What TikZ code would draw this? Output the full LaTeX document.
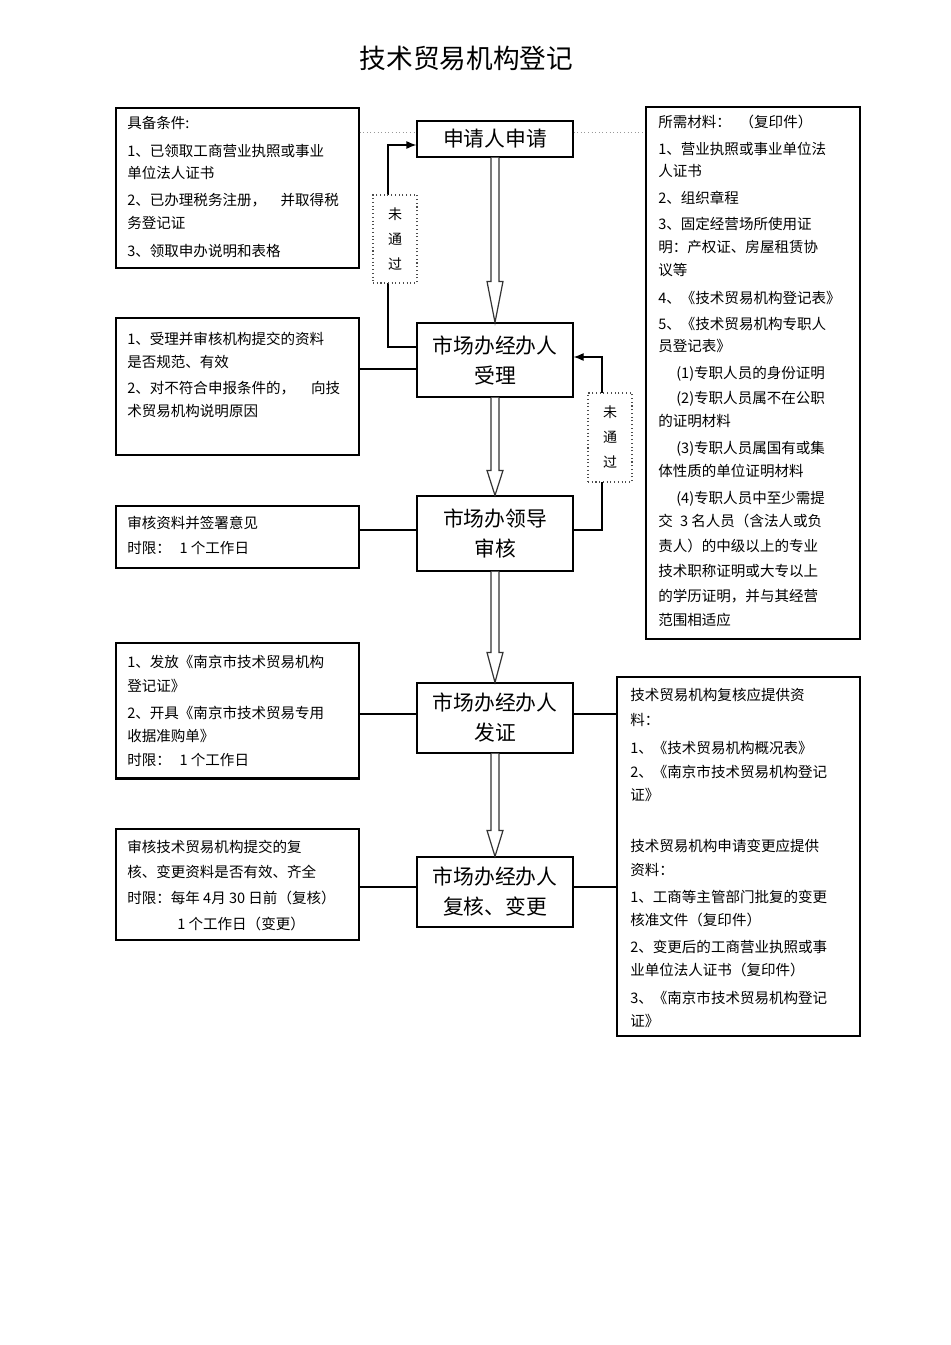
\documentclass[tikz,border=0pt]{standalone}
\usepackage{fontspec}
\setmainfont{Noto Sans CJK SC}
\usetikzlibrary{calc,arrows.meta}
\tikzset{
  box/.style={draw, line width=0.85pt, inner sep=0pt},
  mainbox/.style={draw, line width=0.9pt, inner sep=0pt, align=center,
    minimum width=117pt, font=\fontsize{15.6pt}{22.5pt}\selectfont},
  nbox/.style={draw=black!70, dotted, line width=0.8pt, fill=white, inner sep=0pt, align=center,
    minimum width=33pt, font=\fontsize{10.5pt}{18.75pt}\selectfont},
  txt/.style={font=\fontsize{10.9pt}{12pt}\selectfont, anchor=west, inner sep=0pt,
    text height=9.6pt, text depth=1.3pt},
  conn/.style={line width=0.8pt},
  thickconn/.style={line width=1.5pt},
  fb/.style={line width=0.9pt, -{Latex[length=7.5pt,width=6pt]}},
  harrow/.style={line width=0.9pt, draw=black!80, fill=white},
  dotline/.style={dotted, line width=0.7pt, draw=black!40}
}
\newcommand\boxtext[2]{\foreach \xx/\yy/\s [count=\k] in {#2} \node[txt] (#1-\k) at (\xx,\yy) {\s};}
\newcommand\hollowarrow[3]{%
  \draw[harrow] ($(#1.south)+(-4,0)$) -- ($(#2.north)+(-4,-#3)$) -- ($(#2.north)+(-8,-#3)$)
    -- (#2.north) -- ($(#2.north)+(8,-#3)$) -- ($(#2.north)+(4,-#3)$) -- ($(#1.south)+(4,0)$);}
\begin{document}
\begin{tikzpicture}[x=0.75pt,y=-0.75pt]
\fill[white] (0,0) rectangle (950,1345);
\useasboundingbox (0,0) rectangle (950,1345);

% title
\node[inner sep=0pt, font=\fontsize{20pt}{24pt}\selectfont] (title) at (466.5,58) {技术贸易机构登记};

% main process boxes
\node[mainbox, minimum height=27pt] (apply) at (495,139) {申请人申请};
\node[mainbox, minimum height=55.5pt] (shouli) at (495,360) {市场办经办人\\受理};
\node[mainbox, minimum height=56.25pt] (shenhe) at (495,533.5) {市场办领导\\审核};
\node[mainbox, minimum height=52.5pt] (fazheng) at (495,718) {市场办经办人\\发证};
\node[mainbox, minimum height=52.5pt] (fuhe) at (495,892) {市场办经办人\\复核、变更};

% side boxes
\node[box, minimum width=182.25pt, minimum height=120pt] (L1) at (237.5,188) {};
\node[box, minimum width=182.25pt, minimum height=102.75pt] (L2) at (237.5,386.5) {};
\node[box, minimum width=182.25pt, minimum height=46.5pt] (L3) at (237.5,537) {};
\node[box, minimum width=182.25pt, minimum height=101.25pt] (L4) at (237.5,710.5) {};
\node[box, minimum width=182.25pt, minimum height=83.25pt] (L5) at (237.5,884.5) {};
\node[box, minimum width=160.5pt, minimum height=399pt] (R1) at (753,373) {};
\node[box, minimum width=182.25pt, minimum height=269.25pt] (R2) at (738.5,856.5) {};
\draw[line width=1.5pt] (L4.south west) -- (L4.south east);
\draw[line width=1.2pt] (L1.south west) -- (L1.south east);

% dotted links at top
\draw[dotline] (L1.east |- 0,132.5) -- (apply.west |- 0,132.5);
\draw[dotline] (apply.east |- 0,132.5) -- (R1.west |- 0,132.5);

% connectors to side boxes
\draw[thickconn] (L2.east |- 0,369) -- (shouli.west |- 0,369);
\draw[thickconn] (L3.east |- 0,530) -- (shenhe.west |- 0,530);
\draw[conn] (L4.east |- 0,714) -- (fazheng.west |- 0,714);
\draw[conn] (fazheng.east |- 0,714) -- (R2.west |- 0,714);
\draw[conn] (L5.east |- 0,887) -- (fuhe.west |- 0,887);
\draw[conn] (fuhe.east |- 0,887) -- (R2.west |- 0,887);

% feedback loops (not passed)
\coordinate (fb1) at (388,0);
\coordinate (fb2) at (602,0);
\draw[fb] (shouli.west |- 0,347) -- (fb1 |- 0,347) -- (fb1 |- 0,145) -- (apply.west |- 0,145);
\draw[fb] (shenhe.east |- 0,530) -- (fb2 |- 0,530) -- (fb2 |- 0,357) -- (shouli.east |- 0,357);
\node[nbox, minimum height=66pt] (n1) at (395,239) {未\\通\\过};
\node[nbox, minimum height=66.75pt] (n2) at (610,437.5) {未\\通\\过};

% hollow block arrows
\hollowarrow{apply}{shouli}{41}
\hollowarrow{shouli}{shenhe}{25}
\hollowarrow{shenhe}{fazheng}{30}
\hollowarrow{fazheng}{fuhe}{26}

% texts
\boxtext{l1}{127/123/{具备条件:}, 127/151/{1、已领取工商营业执照或事业}, 127/173/{单位法人证书},
  127/200/{2、已办理税务注册，\hspace{1em}并取得税}, 127/223/{务登记证}, 127/251/{3、领取申办说明和表格}}
\boxtext{l2}{127/339/{1、受理并审核机构提交的资料}, 127/362/{是否规范、有效},
  127/388/{2、对不符合申报条件的，\hspace{1.1em}向技}, 127/411/{术贸易机构说明原因}}
\boxtext{l3}{127/523/{审核资料并签署意见}, 127/548/{时限：\hspace{0.6em}1 个工作日}}
\boxtext{l4}{127/662/{1、发放《南京市技术贸易机构}, 127/686/{登记证》},
  127/713/{2、开具《南京市技术贸易专用}, 127/736/{收据准购单》}, 127/760/{时限：\hspace{0.6em}1 个工作日}}
\boxtext{l5}{127/847/{审核技术贸易机构提交的复}, 127/872/{核、变更资料是否有效、齐全},
  127/898/{时限：每年 4月 30 日前（复核）}, 177/924/{1 个工作日（变更）}}
\boxtext{r1}{658/122/{所需材料：\hspace{0.6em}（复印件）}, 658/149/{1、营业执照或事业单位法}, 658/171/{人证书},
  658/198/{2、组织章程}, 658/224/{3、固定经营场所使用证}, 658/247/{明：产权证、房屋租赁协}, 658/270/{议等},
  658/298/{4、《技术贸易机构登记表》}, 658/324/{5、《技术贸易机构专职人}, 658/346/{员登记表》},
  676/373/{(1)专职人员的身份证明}, 676/398/{(2)专职人员属不在公职}, 658/421/{的证明材料},
  676/448/{(3)专职人员属国有或集}, 658/471/{体性质的单位证明材料},
  676/498/{(4)专职人员中至少需提}, 658/521/{交\hspace{0.5em}3 名人员（含法人或负},
  658/546/{责人）的中级以上的专业}, 658/571/{技术职称证明或大专以上},
  658/596/{的学历证明，并与其经营}, 658/620/{范围相适应}}
\boxtext{r2}{630/695/{技术贸易机构复核应提供资}, 630/720/{料：}, 630/748/{1、《技术贸易机构概况表》},
  630/772/{2、《南京市技术贸易机构登记}, 630/795/{证》},
  630/846/{技术贸易机构申请变更应提供}, 630/870/{资料：}, 630/897/{1、工商等主管部门批复的变更},
  630/920/{核准文件（复印件）}, 630/947/{2、变更后的工商营业执照或事}, 630/970/{业单位法人证书（复印件）},
  630/998/{3、《南京市技术贸易机构登记}, 630/1021/{证》}}
\end{tikzpicture}
\end{document}
